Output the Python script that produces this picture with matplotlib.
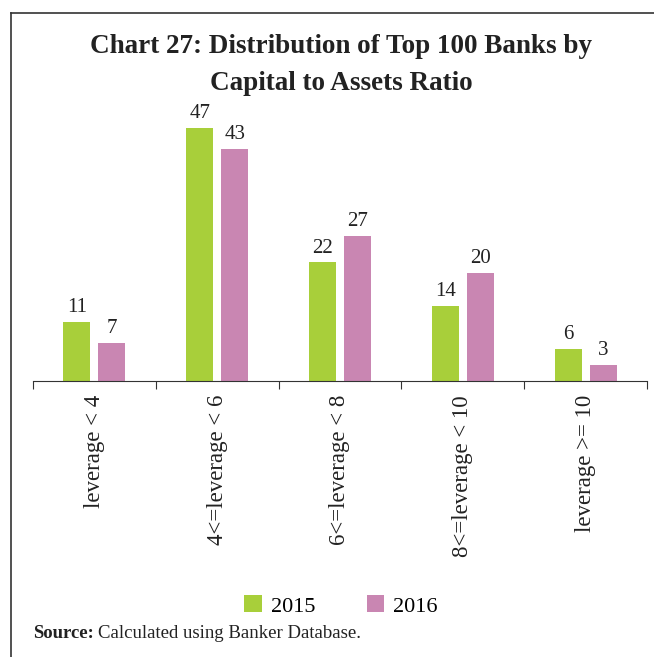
import matplotlib.pyplot as plt
import numpy as np

categories = ["leverage < 4", "4<=leverage < 6", "6<=leverage < 8",
              "8<=leverage < 10", "leverage >= 10"]
y2015 = [11, 47, 22, 14, 6]
y2016 = [7, 43, 27, 20, 3]
years = ["2015", "2016"]

green = "#A8CF3A"
pink = "#C986B2"

plt.rcParams['font.family'] = ['Liberation Serif', 'DejaVu Serif']

fig = plt.figure(figsize=(6.54, 6.57), dpi=100)

# frame: top and left lines only
fig.add_artist(plt.Line2D([11/654, 1], [1-13/657, 1-13/657], color="#333333", lw=1.2))
fig.add_artist(plt.Line2D([11/654, 11/654], [0, 1-13/657], color="#333333", lw=1.2))

ax = fig.add_axes([33/654, 1-381/657, 614/654, 0.41])

x = np.arange(len(categories))
w = 0.22
off = 0.143
b1 = ax.bar(x - off, y2015, w, color=green, label=years[0])
b2 = ax.bar(x + off, y2016, w, color=pink, label=years[1])

for bars, vals in [(b1, y2015), (b2, y2016)]:
    for b, v in zip(bars, vals):
        ax.text(b.get_x() + b.get_width()/2, v + 0.9, str(v),
                ha="center", va="bottom", fontsize=15, color="#222222")

ax.set_xlim(-0.5, len(categories) - 0.5)
ax.set_ylim(0, 50)
ax.set_yticks([])
for s in ["top", "right", "left"]:
    ax.spines[s].set_visible(False)
ax.spines["bottom"].set_color("#333333")

ax.set_xticks(np.arange(len(categories) + 1) - 0.5)
ax.set_xticklabels([])
ax.tick_params(axis="x", length=6, color="#333333", direction="out")
for i, c in enumerate(categories):
    ax.text(i, -2.6, c, rotation=90, ha="center", va="top", fontsize=16.5,
            color="#222222")

fig.text(341/654, 1-65/657,
         "Chart 27: Distribution of Top 100 Banks by\nCapital to Assets Ratio",
         ha="center", va="center", fontsize=19.5, fontweight="bold",
         color="#222222", linespacing=1.65)

fig.legend(handles=[b1, b2], labels=years, loc="center",
           bbox_to_anchor=(341/654, 1-606/657), ncol=2, frameon=False,
           fontsize=16, handlelength=0.8, handleheight=0.8,
           columnspacing=2.3, handletextpad=0.4)

t1 = fig.text(33/654, 1-634/657, "Source:", fontsize=13.5, va="center",
              fontweight="bold", color="#222222")
fig.canvas.draw()
bb = t1.get_window_extent()
fig.text((bb.x1 + 4)/654, 1-634/657, "Calculated using Banker Database.",
         fontsize=13.5, va="center", color="#222222")

fig.savefig("out.png", dpi=100, facecolor="white")
